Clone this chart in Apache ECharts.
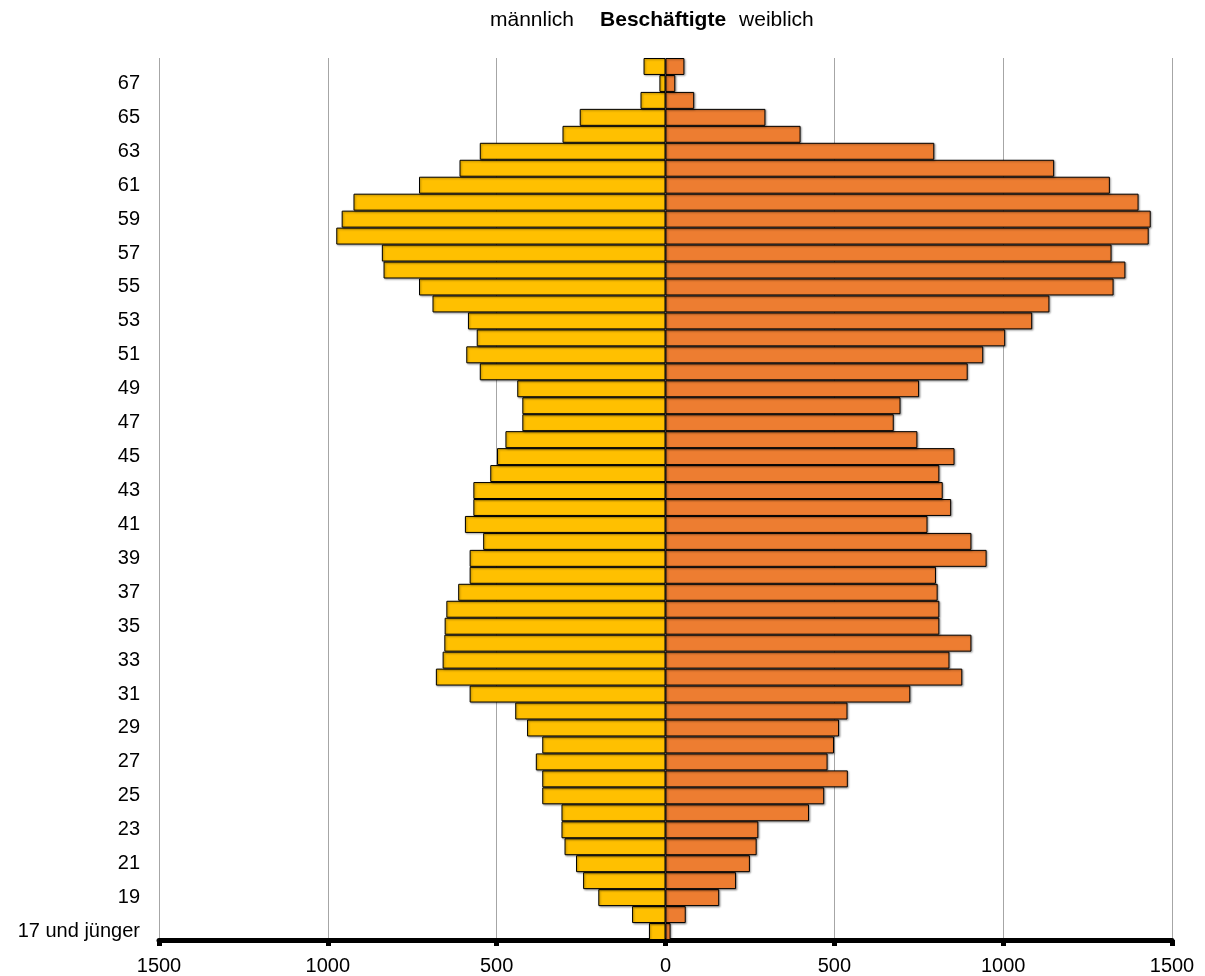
<!DOCTYPE html>
<html>
<head>
<meta charset="utf-8">
<title>Beschäftigte nach Alter</title>
<script src="https://cdn.jsdelivr.net/npm/echarts@6/dist/echarts.min.js"></script>
<style>
  html, body { margin: 0; padding: 0; background: #fff; }
  #chart { width: 1205px; height: 976px; }
</style>
</head>
<body>
<div id="chart"></div>
<script>
// Age groups from bottom to top
const ages = ['17 und jünger'];
for (let a = 18; a <= 68; a++) ages.push(String(a));

// Employees per age, male (drawn to the left)
const maennlich = [
  49, 99, 199, 244, 265, 299, 308, 308, 365, 365,
  384, 365, 410, 445, 580, 680, 660, 655, 654, 649,
  614, 580, 580, 540, 594, 569, 569, 519, 499, 474,
  424, 424, 439, 550, 590, 559, 585, 690, 730, 835,
  840, 975, 959, 924, 730, 610, 550, 305, 254, 74,
  18, 65
];

// Employees per age, female (drawn to the right)
const weiblich = [
  15, 60, 159, 209, 250, 270, 275, 425, 470, 540,
  480, 499, 514, 539, 725, 879, 841, 906, 811, 811,
  806, 801, 951, 906, 776, 846, 821, 811, 856, 746,
  676, 696, 751, 895, 941, 1006, 1086, 1137, 1327, 1362,
  1321, 1431, 1437, 1401, 1316, 1151, 796, 400, 296, 85,
  29, 56
];

// x-axis ticks
const xMin = -1500, xMax = 1500, xStep = 500;

const FONT = '"Liberation Sans", Arial, Helvetica, sans-serif';

const chart = echarts.init(document.getElementById('chart'), null, { renderer: 'canvas' });

const barShadow = {
  shadowBlur: 2,
  shadowColor: 'rgba(0,0,0,0.35)',
  shadowOffsetX: 1,
  shadowOffsetY: 1
};

chart.setOption({
  animation: false,
  backgroundColor: '#ffffff',
  title: {
    left: 490,
    top: 9,
    padding: 0,
    text: '{m|männlich}{b|Beschäftigte}{w|weiblich}',
    textStyle: {
      fontWeight: 'normal',
      rich: {
        m: { fontFamily: FONT, fontSize: 21, fontWeight: 'normal', color: '#000', lineHeight: 22 },
        b: { fontFamily: FONT, fontSize: 21, fontWeight: 'bold', color: '#000', lineHeight: 22, padding: [0, 13, 0, 26] },
        w: { fontFamily: FONT, fontSize: 21, fontWeight: 'normal', color: '#000', lineHeight: 22 }
      }
    }
  },
  grid: {
    left: 159,
    right: 33,
    top: 58,
    bottom: 36,
    containLabel: false
  },
  xAxis: {
    type: 'value',
    min: xMin,
    max: xMax,
    interval: xStep,
    axisLine: { show: true, onZero: false, lineStyle: { color: '#000', width: 5 } },
    axisTick: { show: true, length: 6, lineStyle: { color: '#000', width: 5 } },
    axisLabel: {
      formatter: v => String(Math.abs(v)),
      fontFamily: FONT,
      fontSize: 20,
      color: '#000',
      margin: 16
    },
    splitLine: { show: true, lineStyle: { color: '#a6a6a6', width: 1 } }
  },
  yAxis: {
    type: 'category',
    data: ages,
    axisLine: { show: false },
    axisTick: { show: false },
    splitLine: { show: false },
    axisLabel: {
      interval: 1,
      fontFamily: FONT,
      fontSize: 20,
      color: '#000',
      margin: 19
    }
  },
  series: [
    {
      name: 'männlich',
      type: 'bar',
      data: maennlich.map(v => -v),
      barGap: '-100%',
      barCategoryGap: 0,
      itemStyle: Object.assign({ color: '#FFC000', borderColor: '#000', borderWidth: 1 }, barShadow)
    },
    {
      name: 'weiblich',
      type: 'bar',
      data: weiblich,
      barGap: '-100%',
      barCategoryGap: 0,
      itemStyle: Object.assign({ color: '#ED7D31', borderColor: '#000', borderWidth: 1 }, barShadow)
    }
  ]
});
</script>
</body>
</html>
